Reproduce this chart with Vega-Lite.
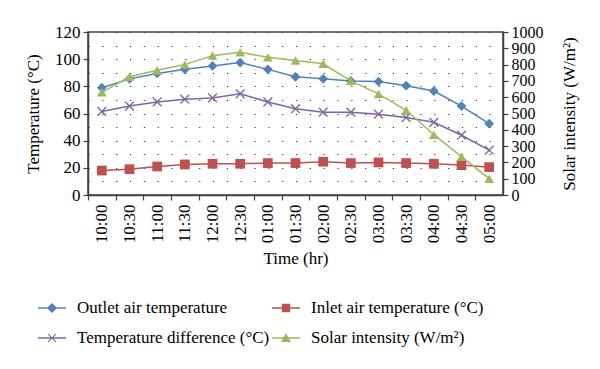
{
 "$schema": "https://vega.github.io/schema/vega-lite/v6.json",
 "width": 415, "height": 163,
 "autosize": {"type": "none"},
 "padding": {"left": 88, "top": 32, "right": 97, "bottom": 174},
 "background": "white",
 "config": {
  "font": "Liberation Serif",
  "view": {"stroke": "#404040", "strokeWidth": 1.5},
  "axis": {"labelFont": "Liberation Serif", "titleFont": "Liberation Serif", "labelFontSize": 17, "titleFontSize": 17, "labelColor": "black", "titleColor": "black", "titleFontWeight": "normal", "domainColor": "#404040", "domainWidth": 1.5, "tickColor": "#404040", "tickWidth": 1.2, "tickSize": 5, "labelOverlap": false, "labelBound": false}
 },
 "data": {"values": [
  {"time": "10:00", "series": "Outlet air temperature", "value": 79},
  {"time": "10:30", "series": "Outlet air temperature", "value": 85.5},
  {"time": "11:00", "series": "Outlet air temperature", "value": 89.5},
  {"time": "11:30", "series": "Outlet air temperature", "value": 92.5},
  {"time": "12:00", "series": "Outlet air temperature", "value": 95},
  {"time": "12:30", "series": "Outlet air temperature", "value": 97.5},
  {"time": "01:00", "series": "Outlet air temperature", "value": 92.5},
  {"time": "01:30", "series": "Outlet air temperature", "value": 87},
  {"time": "02:00", "series": "Outlet air temperature", "value": 85.5},
  {"time": "02:30", "series": "Outlet air temperature", "value": 84},
  {"time": "03:00", "series": "Outlet air temperature", "value": 83.5},
  {"time": "03:30", "series": "Outlet air temperature", "value": 80.5},
  {"time": "04:00", "series": "Outlet air temperature", "value": 76.5},
  {"time": "04:30", "series": "Outlet air temperature", "value": 65.5},
  {"time": "05:00", "series": "Outlet air temperature", "value": 52.5},
  {"time": "10:00", "series": "Inlet air temperature (°C)", "value": 18},
  {"time": "10:30", "series": "Inlet air temperature (°C)", "value": 19},
  {"time": "11:00", "series": "Inlet air temperature (°C)", "value": 21},
  {"time": "11:30", "series": "Inlet air temperature (°C)", "value": 22.5},
  {"time": "12:00", "series": "Inlet air temperature (°C)", "value": 23},
  {"time": "12:30", "series": "Inlet air temperature (°C)", "value": 23},
  {"time": "01:00", "series": "Inlet air temperature (°C)", "value": 23.5},
  {"time": "01:30", "series": "Inlet air temperature (°C)", "value": 23.5},
  {"time": "02:00", "series": "Inlet air temperature (°C)", "value": 24.5},
  {"time": "02:30", "series": "Inlet air temperature (°C)", "value": 23.5},
  {"time": "03:00", "series": "Inlet air temperature (°C)", "value": 24},
  {"time": "03:30", "series": "Inlet air temperature (°C)", "value": 23.5},
  {"time": "04:00", "series": "Inlet air temperature (°C)", "value": 23},
  {"time": "04:30", "series": "Inlet air temperature (°C)", "value": 22},
  {"time": "05:00", "series": "Inlet air temperature (°C)", "value": 20.5},
  {"time": "10:00", "series": "Temperature difference (°C)", "value": 61.5},
  {"time": "10:30", "series": "Temperature difference (°C)", "value": 65.5},
  {"time": "11:00", "series": "Temperature difference (°C)", "value": 68.5},
  {"time": "11:30", "series": "Temperature difference (°C)", "value": 70.5},
  {"time": "12:00", "series": "Temperature difference (°C)", "value": 71.5},
  {"time": "12:30", "series": "Temperature difference (°C)", "value": 74.5},
  {"time": "01:00", "series": "Temperature difference (°C)", "value": 68.5},
  {"time": "01:30", "series": "Temperature difference (°C)", "value": 63.5},
  {"time": "02:00", "series": "Temperature difference (°C)", "value": 61},
  {"time": "02:30", "series": "Temperature difference (°C)", "value": 61},
  {"time": "03:00", "series": "Temperature difference (°C)", "value": 59.5},
  {"time": "03:30", "series": "Temperature difference (°C)", "value": 57},
  {"time": "04:00", "series": "Temperature difference (°C)", "value": 53.5},
  {"time": "04:30", "series": "Temperature difference (°C)", "value": 44},
  {"time": "05:00", "series": "Temperature difference (°C)", "value": 33},
  {"time": "10:00", "series": "Solar intensity (W/m²)", "value": 630},
  {"time": "10:30", "series": "Solar intensity (W/m²)", "value": 725},
  {"time": "11:00", "series": "Solar intensity (W/m²)", "value": 765},
  {"time": "11:30", "series": "Solar intensity (W/m²)", "value": 800},
  {"time": "12:00", "series": "Solar intensity (W/m²)", "value": 855},
  {"time": "12:30", "series": "Solar intensity (W/m²)", "value": 875},
  {"time": "01:00", "series": "Solar intensity (W/m²)", "value": 845},
  {"time": "01:30", "series": "Solar intensity (W/m²)", "value": 825},
  {"time": "02:00", "series": "Solar intensity (W/m²)", "value": 805},
  {"time": "02:30", "series": "Solar intensity (W/m²)", "value": 700},
  {"time": "03:00", "series": "Solar intensity (W/m²)", "value": 620},
  {"time": "03:30", "series": "Solar intensity (W/m²)", "value": 520},
  {"time": "04:00", "series": "Solar intensity (W/m²)", "value": 370},
  {"time": "04:30", "series": "Solar intensity (W/m²)", "value": 235},
  {"time": "05:00", "series": "Solar intensity (W/m²)", "value": 100}
 ]},
 "encoding": {
  "x": {"field": "time", "type": "ordinal", "bandPosition": 0.5,
   "scale": {"type": "band", "paddingInner": 0, "paddingOuter": 0, "domain": ["10:00","10:30","11:00","11:30","12:00","12:30","01:00","01:30","02:00","02:30","03:00","03:30","04:00","04:30","05:00"]},
   "axis": {"title": "Time (hr)", "labelAngle": 270, "tickOffset": -13.83, "labelOffset": 13.83, "grid": false, "titlePadding": 8, "labelPadding": 4}}
 },
 "layer": [
  {"transform": [{"filter": "datum.series != 'Solar intensity (W/m²)'"}],
   "encoding": {"y": {"field": "value", "type": "quantitative", "scale": {"domain": [0, 120], "nice": false},
    "axis": {"title": "Temperature (°C)", "values": [0,10,20,30,40,50,60,70,80,90,100,110,120],
     "labelExpr": "datum.value % 20 == 0 ? datum.label : ''",
     "tickOpacity": {"condition": {"test": "datum.value % 20 != 0", "value": 0}, "value": 1},
     "grid": true, "gridDash": [1.2, 12.63], "gridColor": "#333333", "gridWidth": 1.2, "titlePadding": 12, "labelPadding": 3}}},
   "layer": [
    {"mark": {"type": "line", "strokeWidth": 1.5},
     "encoding": {"stroke": {"field": "series", "type": "nominal",
      "scale": {"domain": ["Outlet air temperature", "Inlet air temperature (°C)", "Temperature difference (°C)", "Solar intensity (W/m²)"], "range": ["#4F81BD", "#C0504D", "#8064A2", "#9BBB59"]},
      "legend": {"title": null, "orient": "none", "legendX": -50, "legendY": 262, "columns": 2, "direction": "horizontal",
       "symbolSize": 784, "labelFontSize": 17, "labelFont": "Liberation Serif", "labelColor": "black", "rowPadding": 8, "columnPadding": 2, "labelOffset": 11, "labelLimit": 0,
       "encode": {"symbols": {"update": {
        "shape": {"signal": "indexof(datum.value,'Outlet')==0 ? 'M-1,-0.055L1,-0.055L1,0.055L-1,0.055Z M0,-0.36L0.36,0L0,0.36L-0.36,0Z' : indexof(datum.value,'Inlet')==0 ? 'M-1,-0.055L1,-0.055L1,0.055L-1,0.055Z M-0.3,-0.3L0.3,-0.3L0.3,0.3L-0.3,0.3Z' : indexof(datum.value,'Temp')==0 ? 'M-1,-0.055L1,-0.055L1,0.055L-1,0.055Z M-0.3,-0.25L-0.25,-0.3L0,-0.05L0.25,-0.3L0.3,-0.25L0.05,0L0.3,0.25L0.25,0.3L0,0.05L-0.25,0.3L-0.3,0.25L-0.05,0Z' : 'M-1,-0.055L1,-0.055L1,0.055L-1,0.055Z M0,-0.34L0.36,0.28L-0.36,0.28Z'"},
        "fill": {"scale": "stroke", "field": "value"},
        "stroke": {"value": "transparent"},
        "strokeWidth": {"value": 0},
        "opacity": {"value": 1}}}}}}}},
    {"mark": {"type": "point", "filled": true, "opacity": 1, "size": 95, "strokeWidth": 0},
     "encoding": {
      "fill": {"field": "series", "type": "ordinal", "legend": null,
       "scale": {"domain": ["Solar intensity (W/m²)", "Outlet air temperature", "Inlet air temperature (°C)", "Temperature difference (°C)"], "range": ["#9BBB59", "#4F81BD", "#C0504D", "#8064A2"]}},
      "shape": {"field": "series", "type": "ordinal", "legend": null,
      "scale": {"domain": ["Solar intensity (W/m²)", "Outlet air temperature", "Inlet air temperature (°C)", "Temperature difference (°C)"], "range": ["triangle-up", "diamond", "square", "M-1,-0.8L-0.8,-1L0,-0.2L0.8,-1L1,-0.8L0.2,0L1,0.8L0.8,1L0,0.2L-0.8,1L-1,0.8L-0.2,0Z"]}}}}
   ]},
  {"transform": [{"filter": "datum.series == 'Solar intensity (W/m²)'"}],
   "encoding": {"y": {"field": "value", "type": "quantitative", "scale": {"domain": [0, 1000], "nice": false},
    "axis": {"orient": "right", "title": "Solar intensity (W/m²)", "values": [0,100,200,300,400,500,600,700,800,900,1000], "format": "d",
     "grid": false, "titleAngle": 270, "titleBaseline": "top", "titlePadding": 18, "labelPadding": 3, "labelFontSize": 16}}},
   "layer": [
    {"mark": {"type": "line", "strokeWidth": 1.5},
     "encoding": {"stroke": {"field": "series", "type": "nominal"}}},
    {"mark": {"type": "point", "filled": true, "opacity": 1, "size": 95, "strokeWidth": 0},
     "encoding": {
      "fill": {"field": "series", "type": "ordinal", "legend": null},
      "shape": {"field": "series", "type": "ordinal", "legend": null}}}
   ]}
 ],
 "resolve": {"scale": {"y": "independent"}}
}
